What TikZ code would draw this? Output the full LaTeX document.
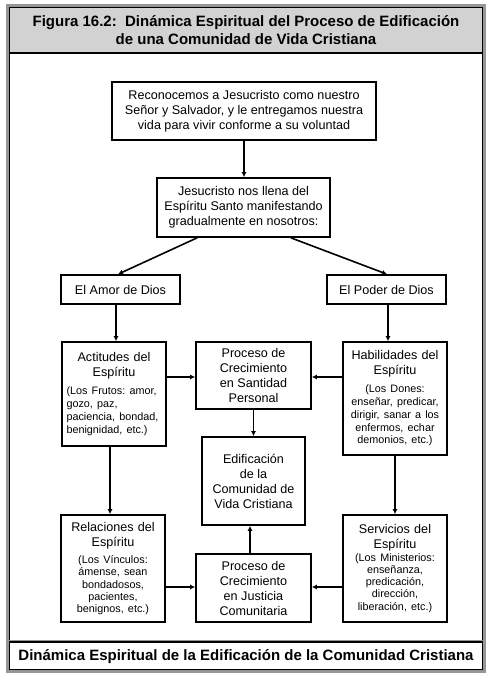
\documentclass[tikz,border=0pt]{standalone}
\usepackage{fontspec}
\setmainfont{Liberation Sans}
\usetikzlibrary{arrows.meta}
\definecolor{titlegray}{RGB}{210,210,210}
\definecolor{framegray}{RGB}{150,150,150}
\frenchspacing
\begin{document}
\frenchspacing
\begin{tikzpicture}[x=1pt,y=-1pt,
  box/.style={draw, line width=1.6pt, inner sep=2pt, align=center,
    font=\fontsize{12.6}{15}\selectfont\frenchspacing},
  arr/.style={line width=1.6pt, -{Latex[length=5pt,width=5pt]}},
]
\useasboundingbox (0,0) rectangle (491,680);
\fill[white] (0,0) rectangle (491,680);
\fill[titlegray] (8,6) rectangle (484,53);
\draw[framegray, line width=3pt] (7.5,5.5) rectangle (484.5,671.5);
\draw[black, line width=0.8pt] (9.2,7.2) rectangle (482.8,669.8);
\draw[black, line width=1.6pt] (9,53) -- (483,53);
\draw[framegray, line width=1pt] (9,640.5) -- (483,640.5);
\draw[black, line width=1.3pt] (9,642) -- (483,642);

\node[font=\bfseries\fontsize{15}{18}\selectfont, align=center] (title) at (246,30)
  {Figura 16.2:\ \ Dinámica Espiritual del Proceso de Edificación\\de una Comunidad de Vida Cristiana};
\node[font=\bfseries\fontsize{15}{18}\selectfont] (caption) at (246,657)
  {Dinámica Espiritual de la Edificación de la Comunidad Cristiana};

\node[box, minimum width=264pt, minimum height=58pt] (b1) at (244,111)
  {Reconocemos a Jesucristo como nuestro\\Señor y Salvador, y le entregamos nuestra\\vida para vivir conforme a su voluntad};
\node[box, minimum width=173pt, minimum height=59pt] (b2) at (243.5,207.5)
  {Jesucristo nos llena del\\Espíritu Santo manifestando\\gradualmente en nosotros:};
\node[box, minimum width=119pt, minimum height=29pt] (amor) at (120.5,289.5) {El Amor de Dios};
\node[box, minimum width=119pt, minimum height=29pt] (poder) at (386.5,289.5) {El Poder de Dios};

\node[box, minimum width=104pt, minimum height=104pt, text width=95pt] (act) at (114,394)
  {Actitudes del\\Espíritu\par\vspace{5pt}%
   {\fontsize{10.8}{12.8}\selectfont\raggedright (Los Frutos: amor,\\gozo, paz,\\paciencia, bondad,\\benignidad, etc.)\par}};
\node[box, minimum width=104pt, minimum height=113pt, text width=100pt] (hab) at (395,398.5)
  {Habilidades del\\Espíritu\par\vspace{5pt}%
   {\fontsize{10.8}{12.8}\selectfont (Los Dones:\\enseñar, predicar,\\dirigir, sanar a los\\enfermos, echar\\demonios, etc.)\par}};
\node[box, minimum width=115pt, minimum height=67pt] (sant) at (253.5,375.5)
  {Proceso de\\Crecimiento\\en Santidad\\Personal};
\node[box, minimum width=103pt, minimum height=88pt] (edif) at (253.5,481)
  {Edificación\\de la\\Comunidad de\\Vida Cristiana};
\node[box, minimum width=104pt, minimum height=107pt, text width=100pt] (rel) at (113,568.5)
  {Relaciones del\\Espíritu\par\vspace{5pt}%
   {\fontsize{10.8}{12.3}\selectfont (Los Vínculos:\\ámense, sean\\bondadosos,\\pacientes,\\benignos, etc.)\par}};
\node[box, minimum width=104pt, minimum height=107pt, text width=100pt] (serv) at (395,568.5)
  {Servicios del\\Espíritu\par\vspace{0pt}%
   {\fontsize{10.8}{12.3}\selectfont (Los Ministerios:\\enseñanza,\\predicación,\\dirección,\\liberación, etc.)\par}};
\node[box, minimum width=115pt, minimum height=68pt] (just) at (253.5,588)
  {Proceso de\\Crecimiento\\en Justicia\\Comunitaria};

\draw[arr] (b1.south) -- (b1.south |- b2.north);
\draw[arr] ([xshift=41pt]b2.south west) -- ([xshift=-2.5pt]amor.north);
\draw[arr] ([xshift=-40pt]b2.south east) -- ([xshift=0.5pt]poder.north);
\draw[arr] ([xshift=-4.5pt]amor.south) -- ([xshift=-4.5pt]amor.south |- act.north);
\draw[arr] ([xshift=1.5pt]poder.south) -- ([xshift=1.5pt]poder.south |- hab.north);
\draw[arr] (act.east |- 0,377) -- (sant.west |- 0,377);
\draw[arr] (hab.west |- 0,377) -- (sant.east |- 0,377);
\draw[arr] (sant.south) -- (sant.south |- edif.north);
\draw[arr] ([xshift=-4pt]act.south) -- ([xshift=-4pt]act.south |- rel.north);
\draw[arr] (hab.south) -- (hab.south |- serv.north);
\draw[arr] (rel.east |- 0,587) -- (just.west |- 0,587);
\draw[arr] (serv.west |- 0,587) -- (just.east |- 0,587);
\draw[arr] ([xshift=-3.5pt]just.north) -- ([xshift=-3.5pt]just.north |- edif.south);
\end{tikzpicture}
\end{document}
